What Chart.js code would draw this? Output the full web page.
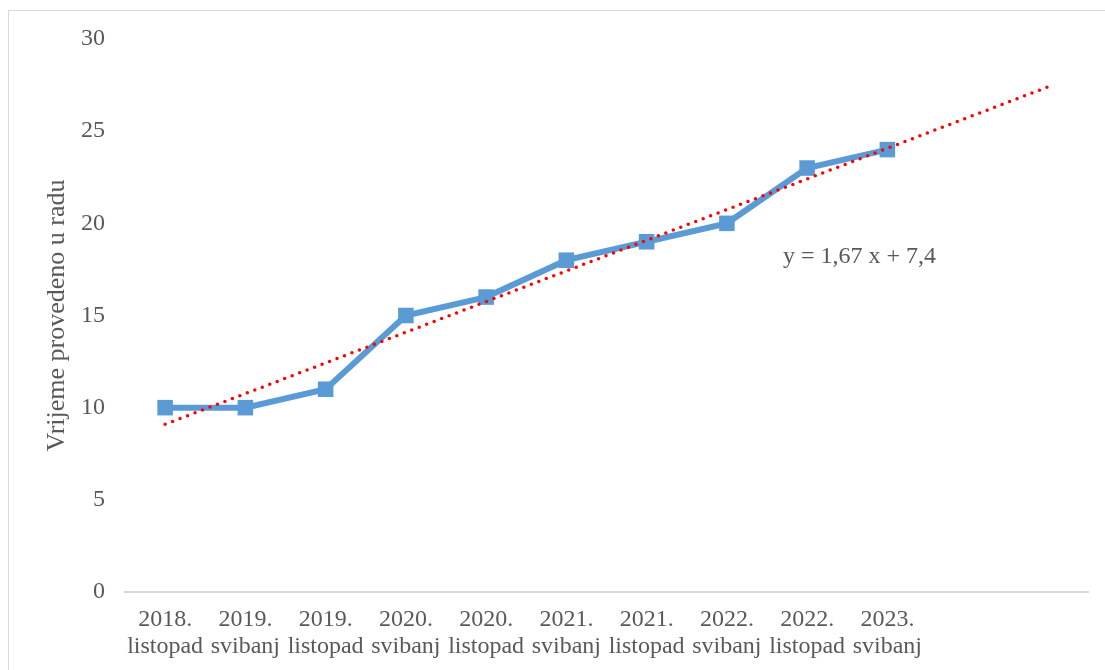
<!DOCTYPE html>
<html>
<head>
<meta charset="utf-8">
<script src="https://cdn.jsdelivr.net/npm/chart.js@4/dist/chart.umd.min.js"></script>
<style>
  html, body { margin: 0; padding: 0; background: #fff; }
  #wrap { position: relative; width: 1105px; height: 670px; overflow: hidden; }
  #frame { position: absolute; left: 8px; top: 10px; width: 1110px; height: 680px; border: 1px solid #D9D9D9; box-sizing: border-box; }
  canvas { position: absolute; left: 0; top: 0; }
</style>
</head>
<body>
<div id="wrap">
  <div id="frame"></div>
  <canvas id="chart" width="1105" height="670"></canvas>
</div>
<script>
// Data
const periods = [
  ['2018.', 'listopad'], ['2019.', 'svibanj'], ['2019.', 'listopad'],
  ['2020.', 'svibanj'], ['2020.', 'listopad'], ['2021.', 'svibanj'],
  ['2021.', 'listopad'], ['2022.', 'svibanj'], ['2022.', 'listopad'],
  ['2023.', 'svibanj'], '', ''
];
const hours = [10, 10, 11, 15, 16, 18, 19, 20, 23, 24, null, null];
// linear trend endpoints (forecast two periods forward)
const trend = [9.1, null, null, null, null, null, null, null, null, null, null, 27.4];
const trendLabel = 'y = 1,67 x + 7,4';
const yTicks = [0, 5, 10, 15, 20, 25, 30];

const textColor = '#595959';
const font = { family: "'Liberation Serif', 'Times New Roman', serif", size: 24 };

// equation text next to trend line
const equationPlugin = {
  id: 'equation',
  afterDatasetsDraw(chart) {
    const { ctx, scales } = chart;
    const x = scales.x.getPixelForValue(7) + 56;
    const y = scales.y.getPixelForValue(18.2);
    ctx.save();
    ctx.font = `${font.size}px ${font.family}`;
    ctx.fillStyle = textColor;
    ctx.textAlign = 'left';
    ctx.textBaseline = 'middle';
    ctx.fillText(trendLabel, x, y);
    ctx.restore();
  }
};

new Chart(document.getElementById('chart'), {
  type: 'line',
  data: {
    labels: periods,
    datasets: [
      {
        label: 'Vrijeme',
        data: hours,
        borderColor: '#5B9BD5',
        backgroundColor: '#5B9BD5',
        borderWidth: 6,
        pointStyle: 'rect',
        pointRadius: 11,
        pointBorderWidth: 0,
        tension: 0,
        order: 2
      },
      {
        label: 'Trend',
        data: trend,
        spanGaps: true,
        borderColor: '#FF0000',
        borderWidth: 3.5,
        borderDash: [0, 8],
        borderCapStyle: 'round',
        pointRadius: 0,
        order: 1
      }
    ]
  },
  options: {
    responsive: false,
    animation: false,
    layout: { padding: { left: 0, right: 17, top: 39, bottom: 0 } },
    plugins: { legend: { display: false }, tooltip: { enabled: false } },
    scales: {
      x: {
        type: 'category',
        offset: true,
        grid: { display: false, drawTicks: false },
        border: { color: '#D9D9D9', width: 2 },
        ticks: { color: textColor, font: { ...font, lineHeight: 1.1 }, padding: 15, maxRotation: 0, autoSkip: false },
        afterFit(scale) { scale.height = 78; }
      },
      y: {
        min: 0,
        max: 30,
        afterBuildTicks(scale) { scale.ticks = yTicks.map(v => ({ value: v })); },
        grid: { display: false, drawTicks: false },
        border: { display: false },
        ticks: { color: textColor, font, padding: 20 },
        title: { display: true, text: 'Vrijeme provedeno u radu', color: textColor, font: { ...font, size: 26 }, padding: { top: 42, bottom: 0 } },
        afterFit(scale) { scale.width = 125; }
      }
    }
  },
  plugins: [equationPlugin]
});
</script>
</body>
</html>
